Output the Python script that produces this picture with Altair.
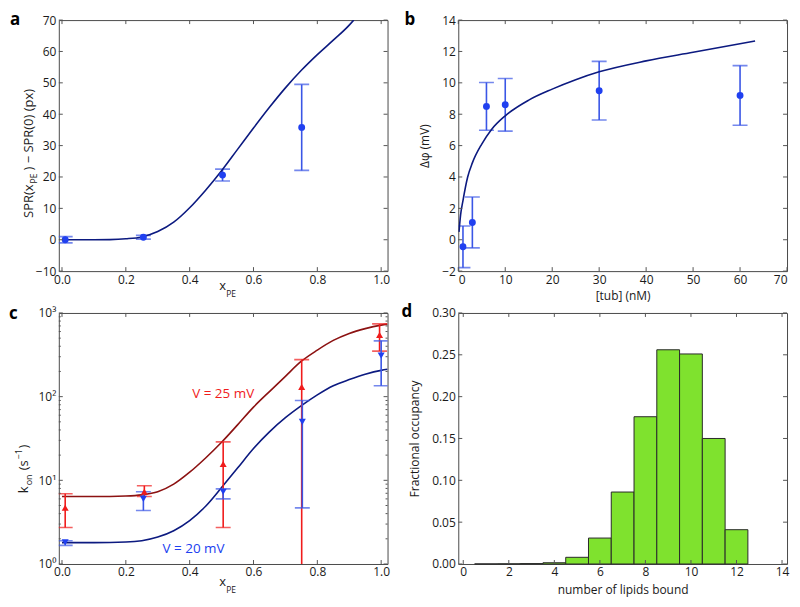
import altair as alt
import pandas as pd

# ---------------- data ----------------
# panel a : SPR shift vs x_PE
a_x = [0.01, 0.255, 0.503, 0.751]
a_y = [0.0, 0.8, 20.6, 35.8]
a_err = [1.0, 0.6, 1.9, 13.7]
a_fit_x = [0.0, 0.05, 0.1, 0.15, 0.2, 0.25, 0.3, 0.35, 0.4, 0.45, 0.5,
           0.55, 0.6, 0.65, 0.7, 0.75, 0.8, 0.85, 0.9, 0.914]
a_fit_y = [0.0, 0.0, 0.0, 0.05, 0.3, 0.9, 2.6, 5.6, 10.2, 15.8, 22.0,
           28.8, 35.6, 42.2, 48.4, 54.0, 59.0, 63.6, 68.4, 70.0]
a_xticks = [0, 0.2, 0.4, 0.6, 0.8, 1.0]
a_yticks = [-10, 0, 10, 20, 30, 40, 50, 60, 70]

# panel b : delta phi vs [tub]
b_x = [1, 3, 6, 10, 30, 60]
b_y = [-0.45, 1.1, 8.5, 8.6, 9.5, 9.2]
b_err = [1.33, 1.62, 1.52, 1.68, 1.87, 1.9]
b_fit_x = [0.15, 0.5, 1, 2, 3, 5, 7, 10, 15, 20, 25, 30, 40, 50, 63.2]
b_fit_y = [0.5, 1.6, 2.5, 4.0, 4.9, 6.1, 7.0, 7.9, 8.9, 9.6, 10.2, 10.7,
           11.4, 11.95, 12.67]
b_xticks = [0, 10, 20, 30, 40, 50, 60, 70]
b_yticks = [-2, 0, 2, 4, 6, 8, 10, 12, 14]

# panel c : k_on vs x_PE (log)
c_red_x = [0.01, 0.258, 0.505, 0.751, 0.995]
c_red = [4.7, 7.3, 15.7, 131, 545]
c_red_lo = [2.73, 6.4, 2.73, 0.3, 350]
c_red_hi = [6.9, 8.6, 28.8, 277, 740]
c_blue_x = [0.01, 0.255, 0.505, 0.753, 1.0]
c_blue = [1.82, 6.0, 7.3, 50, 309]
c_blue_lo = [1.67, 4.35, 6.0, 4.68, 135]
c_blue_hi = [1.9, 7.3, 7.9, 90, 464]
c_fit_x = [0.0, 0.1, 0.2, 0.25, 0.3, 0.35, 0.4, 0.45, 0.5, 0.55, 0.6, 0.65,
           0.7, 0.75, 0.8, 0.85, 0.9, 0.95, 1.0, 1.02]
c_fit_red = [6.4, 6.4, 6.5, 6.7, 7.3, 9.0, 12.5, 18.5, 28.5, 46, 75, 115,
             175, 265, 360, 470, 570, 650, 715, 735]
c_fit_blue = [1.8, 1.8, 1.83, 1.9, 2.1, 2.5, 3.3, 4.9, 8.2, 14, 24, 38,
              56, 78, 105, 135, 160, 185, 206, 212]
c_yticks = [1, 10, 100, 1000]
c_yminor = [2, 3, 4, 5, 6, 7, 8, 9, 20, 30, 40, 50, 60, 70, 80, 90,
            200, 300, 400, 500, 600, 700, 800, 900]

# panel d : histogram of lipids bound
d_n = [1, 2, 3, 4, 5, 6, 7, 8, 9, 10, 11, 12]
d_frac = [0.0001, 0.0002, 0.0005, 0.0015, 0.008, 0.031, 0.086, 0.176,
          0.256, 0.251, 0.150, 0.041]
d_xticks = [0, 2, 4, 6, 8, 10, 12, 14]
d_yticks = [0, 0.05, 0.10, 0.15, 0.20, 0.25, 0.30]

# ---------------- style ----------------
FONT = "Open Sans"
W, H = 330, 252
BLUE_PT = "#2040f0"
BLUE_ERR = "#3a56e6"
NAVY = "#0c1a80"
RED_PT = "#f01c1c"
DARK_RED = "#8c1212"
GREEN = "#7fe22e"
INK = "#1a1a1a"
TICK = "#555555"


def txt(s, x, y, size=12, angle=0, align="left", color=INK, weight="normal"):
    return alt.Chart(pd.DataFrame({"t": [s]})).mark_text(
        text=s, font=FONT, fontSize=size, angle=angle, align=align,
        baseline="alphabetic", color=color, fontWeight=weight
    ).encode(x=alt.value(x), y=alt.value(y))


def xpe_title(dy):
    return [txt("x", W / 2 - 4, H + dy, 13),
            txt("PE", W / 2 + 3, H + dy + 7, 8.5)]


def errbars(df, X, Yf, color, lo="lo", hi="hi", cap=15):
    rule = alt.Chart(df).mark_rule(color=color, strokeWidth=1.6, clip=True).encode(
        x=X, y=Yf(lo), y2=alt.Y2(hi))
    c1 = alt.Chart(df).mark_tick(color=color, orient="horizontal", size=cap,
                                 thickness=1.6, clip=True).encode(x=X, y=Yf(lo))
    c2 = alt.Chart(df).mark_tick(color=color, orient="horizontal", size=cap,
                                 thickness=1.6, clip=True).encode(x=X, y=Yf(hi))
    return [rule, c1, c2]


def inticks(xvals, yvals, Xf, Yf, L=4):
    """matplotlib-style ticks pointing into the frame on all four sides"""
    dx = pd.DataFrame({"x": xvals})
    dy = pd.DataFrame({"y": yvals})
    out = []
    if xvals:
        out += [
            alt.Chart(dx).mark_rule(color=TICK, strokeWidth=1).encode(
                x=Xf("x"), y=alt.value(H), y2=alt.value(H - L)),
            alt.Chart(dx).mark_rule(color=TICK, strokeWidth=1).encode(
                x=Xf("x"), y=alt.value(0), y2=alt.value(L)),
        ]
    if yvals:
        out += [
            alt.Chart(dy).mark_rule(color=TICK, strokeWidth=1).encode(
                y=Yf("y"), x=alt.value(0), x2=alt.value(L)),
            alt.Chart(dy).mark_rule(color=TICK, strokeWidth=1).encode(
                y=Yf("y"), x=alt.value(W), x2=alt.value(W - L)),
        ]
    return out


# ---------------- panel a ----------------
df_a = pd.DataFrame({"x": a_x, "y": a_y,
                     "lo": [v - e for v, e in zip(a_y, a_err)],
                     "hi": [v + e for v, e in zip(a_y, a_err)]})
df_afit = pd.DataFrame({"x": a_fit_x, "y": a_fit_y})


def Xa(f="x"):
    return alt.X(f"{f}:Q", title=None,
                 scale=alt.Scale(domain=[-0.01, 1.02], nice=False, zero=False),
                 axis=alt.Axis(values=a_xticks, format=".1f"))


def Ya(f):
    return alt.Y(f"{f}:Q", title=None,
                 scale=alt.Scale(domain=[-10, 70], nice=False, zero=False),
                 axis=alt.Axis(values=a_yticks))


a_line = alt.Chart(df_afit).mark_line(color=NAVY, strokeWidth=1.6, clip=True,
                                      interpolate="monotone").encode(x=Xa(), y=Ya("y"))
a_pts = alt.Chart(df_a).mark_point(filled=True, shape="circle", size=48,
                                   color=BLUE_PT, opacity=1).encode(x=Xa(), y=Ya("y"))
pa = alt.layer(
    *errbars(df_a, Xa(), Ya, BLUE_ERR), a_line, a_pts,
    *inticks(a_xticks, a_yticks, Xa, Ya),
    txt("a", -49, 5, 17, weight="bold", color="#000"),
    txt("SPR(x", -26, H / 2 + 39, 13, angle=270, align="right"),
    txt("PE", -22, H / 2 + 38, 8.5, angle=270),
    txt(") \u2212 SPR(0) (px)", -26, H / 2 + 25, 13, angle=270),
    *xpe_title(19),
).properties(width=W, height=H)

# ---------------- panel b ----------------
df_b = pd.DataFrame({"x": b_x, "y": b_y,
                     "lo": [v - e for v, e in zip(b_y, b_err)],
                     "hi": [v + e for v, e in zip(b_y, b_err)]})
df_bfit = pd.DataFrame({"x": b_fit_x, "y": b_fit_y})


def Xb(f="x"):
    return alt.X(f"{f}:Q", title="[tub] (nM)",
                 scale=alt.Scale(domain=[0, 70], nice=False, zero=False),
                 axis=alt.Axis(values=b_xticks, titlePadding=5))


def Yb(f):
    return alt.Y(f"{f}:Q", title="\u0394\u03c6 (mV)",
                 scale=alt.Scale(domain=[-2, 14], nice=False, zero=False),
                 axis=alt.Axis(values=b_yticks, titlePadding=10))


b_line = alt.Chart(df_bfit).mark_line(color=NAVY, strokeWidth=1.6, clip=True,
                                      interpolate="monotone").encode(x=Xb(), y=Yb("y"))
b_pts = alt.Chart(df_b).mark_point(filled=True, shape="circle", size=48,
                                   color=BLUE_PT, opacity=1).encode(x=Xb(), y=Yb("y"))
pb = alt.layer(
    *errbars(df_b, Xb(), Yb, BLUE_ERR), b_line, b_pts,
    *inticks(b_xticks, b_yticks, Xb, Yb),
    txt("b", -54, 5, 17, weight="bold", color="#000"),
).properties(width=W, height=H)

# ---------------- panel c ----------------
df_cr = pd.DataFrame({"x": c_red_x, "y": c_red, "lo": c_red_lo, "hi": c_red_hi})
df_cb = pd.DataFrame({"x": c_blue_x, "y": c_blue, "lo": c_blue_lo, "hi": c_blue_hi})
df_cfit = pd.DataFrame({"x": c_fit_x, "red": c_fit_red, "blue": c_fit_blue})
LOGLAB = ("datum.value == 1 ? '10\u2070' : datum.value == 10 ? '10\u00b9' : "
          "datum.value == 100 ? '10\u00b2' : '10\u00b3'")


def Yc(f):
    return alt.Y(f"{f}:Q", title=None,
                 scale=alt.Scale(type="log", domain=[1, 1000], nice=False),
                 axis=alt.Axis(values=c_yticks, labelExpr=LOGLAB))


c_line_r = alt.Chart(df_cfit).mark_line(color=DARK_RED, strokeWidth=1.6, clip=True,
                                        interpolate="monotone").encode(x=Xa(), y=Yc("red"))
c_line_b = alt.Chart(df_cfit).mark_line(color=NAVY, strokeWidth=1.6, clip=True,
                                        interpolate="monotone").encode(x=Xa(), y=Yc("blue"))
c_pts_r = alt.Chart(df_cr).mark_point(filled=True, shape="triangle-up", size=50,
                                      color=RED_PT, opacity=1).encode(x=Xa(), y=Yc("y"))
c_pts_b = alt.Chart(df_cb).mark_point(filled=True, shape="triangle-down", size=50,
                                      color=BLUE_PT, opacity=1).encode(x=Xa(), y=Yc("y"))
pc = alt.layer(
    c_line_r, c_line_b,
    *errbars(df_cr, Xa(), Yc, RED_PT), *errbars(df_cb, Xa(), Yc, BLUE_ERR),
    c_pts_r, c_pts_b,
    *inticks(a_xticks, c_yticks, Xa, Yc),
    *inticks([], c_yminor, Xa, Yc, L=2),
    txt("V = 25 mV", 0.5 * W, H * 0.315 + 6, 13.5, align="center", color=RED_PT),
    txt("V = 20 mV", 0.41 * W, H * 0.938 + 5, 13.5, align="center", color=BLUE_PT),
    txt("c", -50, 6, 17, weight="bold", color="#000"),
    txt("k", -31, H / 2 + 55, 13, angle=270),
    txt("on", -27, H / 2 + 47, 9, angle=270),
    txt("(s", -31, H / 2 + 32, 13, angle=270),
    txt("\u22121", -37, H / 2 + 21, 9, angle=270),
    txt(")", -31, H / 2 + 10, 13, angle=270),
    *xpe_title(22),
).properties(width=W, height=H)

# ---------------- panel d ----------------
df_d = pd.DataFrame({"x": [n - 0.5 for n in d_n], "hi": [n + 0.5 for n in d_n],
                     "y": d_frac, "base": [0.0] * len(d_n)})


def Xd(f="x"):
    return alt.X(f"{f}:Q", title="number of lipids bound",
                 scale=alt.Scale(domain=[0, 14], nice=False, zero=False),
                 axis=alt.Axis(values=d_xticks, titlePadding=7))


def Yd(f):
    return alt.Y(f"{f}:Q", title="Fractional occupancy",
                 scale=alt.Scale(domain=[0, 0.30], nice=False),
                 axis=alt.Axis(values=d_yticks, format=".2f", titlePadding=10))


pd_ = alt.layer(
    alt.Chart(df_d).mark_bar(color=GREEN, stroke="#2a2a2a", strokeWidth=1,
                             orient="vertical").encode(
        x=Xd("x"), x2="hi", y=Yd("y"), y2="base"),
    *inticks(d_xticks, d_yticks, Xd, Yd),
    txt("d", -57, 4, 17, weight="bold", color="#000"),
).properties(width=W, height=H)

chart = alt.concat(
    pa, pb, pc, pd_, columns=2, spacing={"row": 42, "column": 71}, bounds="flush"
).properties(
    padding={"left": 0, "top": 1, "right": 2, "bottom": 0},
    background="white",
).configure_view(
    stroke="#4a4a4a", strokeWidth=1
).configure_axis(
    labelFont=FONT, labelFontSize=12, labelColor=INK, titleFont=FONT,
    titleFontSize=12, titleFontWeight="normal", titleColor=INK,
    grid=False, domain=False, ticks=False, labelPadding=3,
)

chart.save("out.html", embed_options={"renderer": "svg", "actions": False})
